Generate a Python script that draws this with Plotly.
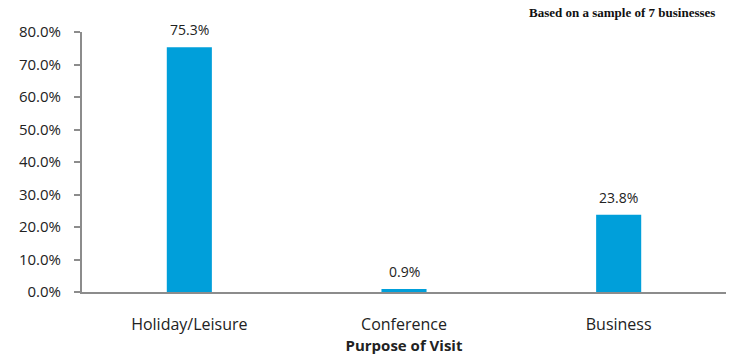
import plotly.graph_objects as go

categories = ["Holiday/Leisure", "Conference", "Business"]
values = [0.753, 0.009, 0.238]
tick_vals = [0, 0.1, 0.2, 0.3, 0.4, 0.5, 0.6, 0.7, 0.8]

fig = go.Figure()
fig.add_trace(go.Bar(
    x=categories, y=values,
    marker=dict(color="#009FDA", line=dict(width=0)),
    cliponaxis=False,
))
label_annotations = [
    dict(x=c, y=v, xref="x", yref="y", text=f"{v*100:.1f}%",
         showarrow=False, yanchor="bottom", yshift=6,
         font=dict(family="Open Sans", size=14, color="#222222"))
    for c, v in zip(categories, values)
]
fig.update_layout(
    width=732, height=364,
    margin=dict(l=82, r=6, t=32, b=72),
    paper_bgcolor="white", plot_bgcolor="white",
    bargap=0.79,
    showlegend=False,
    font=dict(family="Open Sans", size=13, color="#222222"),
    xaxis=dict(
        showline=True, linecolor="#8c8c8c", linewidth=2,
        ticks="", showgrid=False,
        ticklabelstandoff=17,
        title=dict(text="<b>Purpose of Visit</b>", font=dict(size=15), standoff=3),
        tickfont=dict(size=16),
    ),
    yaxis=dict(
        range=[0, 0.8], tickvals=tick_vals, tickformat=".1%",
        showline=True, linecolor="#8c8c8c", linewidth=2,
        ticks="outside", ticklen=6, tickcolor="#8c8c8c", tickwidth=2,
        ticklabelstandoff=10,
        showgrid=False, zeroline=False,
        tickfont=dict(size=15),
    ),
    annotations=label_annotations + [dict(
        text="<b>Based on a sample of 7 businesses</b>",
        xref="paper", yref="paper", x=0.691, y=1.0, xanchor="left", yanchor="bottom",
        yshift=10, showarrow=False,
        font=dict(family="Liberation Serif", size=13, color="#111111"),
    )],
)
fig.write_html("out.html")
